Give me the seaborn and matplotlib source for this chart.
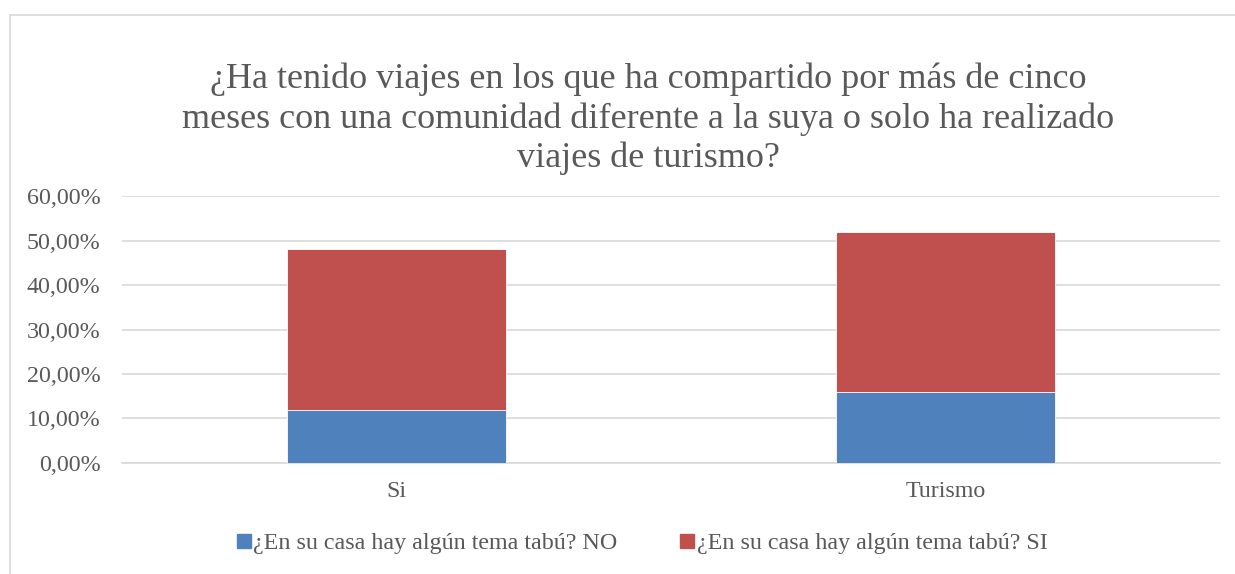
import pandas as pd
import numpy as np
import matplotlib
matplotlib.use('Agg')
import matplotlib.pyplot as plt
from matplotlib.lines import Line2D
from matplotlib.ticker import FuncFormatter
import seaborn as sns

# data
categorias = ['Si', 'Turismo']
tabu_no = [0.12, 0.16]
tabu_si = [0.36, 0.36]
series = ['¿En su casa hay algún tema tabú? NO', '¿En su casa hay algún tema tabú? SI']
titulo = ('¿Ha tenido viajes en los que ha compartido por más de cinco\n'
          'meses con una comunidad diferente a la suya o solo ha realizado\n'
          'viajes de turismo?')

sns.set_style('white')
plt.rcParams['font.family'] = ['Liberation Serif', 'DejaVu Serif']
gris = '#595959'
azul = '#4F81BD'
rojo = '#C0504D'

df = pd.DataFrame({'categoria': categorias, 'NO': tabu_no, 'SI': tabu_si})
df['total'] = df['NO'] + df['SI']

fig = plt.figure(figsize=(12.35, 5.74), dpi=100)
ax = fig.add_axes([0.0988, 0.1934, 0.8892, 0.4651])

# stacked: draw total in red then the bottom segment in blue
sns.barplot(data=df, x='categoria', y='total', color=rojo, width=0.4,
            saturation=1, ax=ax, zorder=2)
sns.barplot(data=df, x='categoria', y='NO', color=azul, width=0.4,
            saturation=1, ax=ax, zorder=3)
for p in ax.patches:
    p.set_edgecolor('white')
    p.set_linewidth(0.6)

ax.set_xlim(-0.5, 1.5)
ax.set_ylim(0, 0.6)
ax.set_yticks(np.arange(0, 0.61, 0.1))
ax.yaxis.set_major_formatter(FuncFormatter(lambda v, _: f'{v*100:.2f}%'.replace('.', ',')))
ax.grid(axis='y', color='#D9D9D9', linewidth=1.2, zorder=0)
ax.set_axisbelow(True)
for s in ['top', 'right', 'left']:
    ax.spines[s].set_visible(False)
ax.spines['bottom'].set_color('#D9D9D9')
ax.spines['bottom'].set_linewidth(1.2)
ax.set_xlabel('')
ax.set_ylabel('')
ax.tick_params(axis='both', length=0, labelsize=17.3, labelcolor=gris)
ax.tick_params(axis='y', pad=15.5)
ax.tick_params(axis='x', pad=13)

fig.text(0.525, 0.793, titulo, ha='center', va='center', fontsize=26,
         color=gris, linespacing=1.22)

handles = [Line2D([], [], marker='s', linestyle='', color=c, markersize=9.4) for c in [azul, rojo]]
fig.legend(handles, series, loc='center', bbox_to_anchor=(0.518, 0.054), ncol=2,
           frameon=False, fontsize=17.3, labelcolor=gris, handletextpad=-0.1,
           columnspacing=2.4, handlelength=1.0)

# outer chart border
fig.add_artist(Line2D([10 / 1235, 1], [1 - 15 / 574, 1 - 15 / 574], color='#D9D9D9', linewidth=1.2))
fig.add_artist(Line2D([10 / 1235, 10 / 1235], [0, 1 - 15 / 574], color='#D9D9D9', linewidth=1.2))

fig.savefig('out.png', dpi=100)
